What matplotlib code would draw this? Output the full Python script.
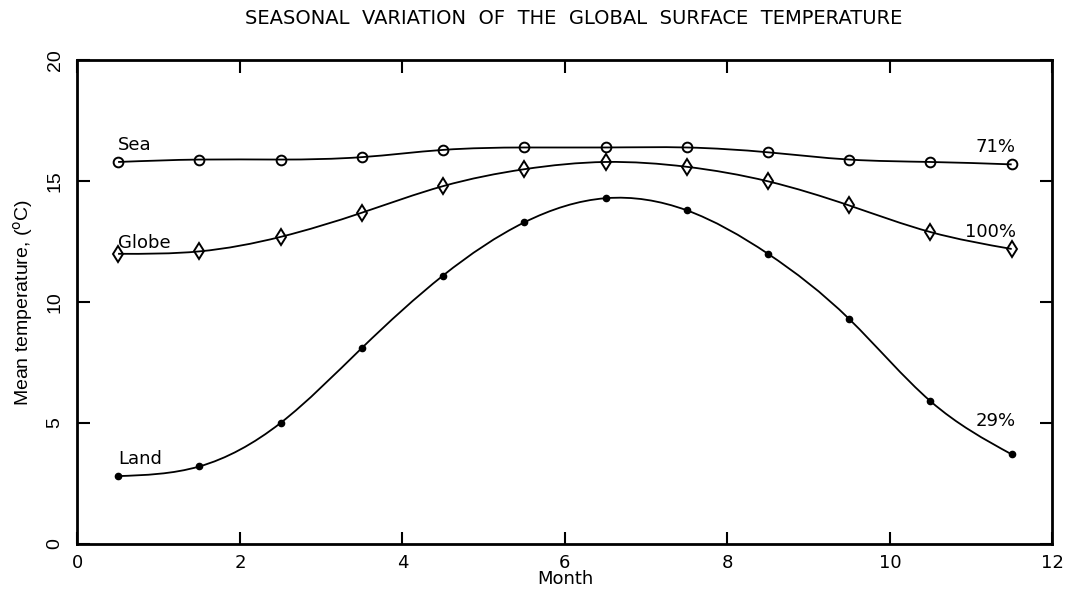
import numpy as np
import matplotlib
matplotlib.use('Agg')
import matplotlib.pyplot as plt
from matplotlib.path import Path
from matplotlib.patches import PathPatch

# 데이터 (월 중간값 기준)
months = [0.5, 1.5, 2.5, 3.5, 4.5, 5.5, 6.5, 7.5, 8.5, 9.5, 10.5, 11.5]
sea = [15.8, 15.9, 15.9, 16.0, 16.3, 16.4, 16.4, 16.4, 16.2, 15.9, 15.8, 15.7]
globe = [12.0, 12.1, 12.7, 13.7, 14.8, 15.5, 15.8, 15.6, 15.0, 14.0, 12.9, 12.2]
land = [2.8, 3.2, 5.0, 8.1, 11.1, 13.3, 14.3, 13.8, 12.0, 9.3, 5.9, 3.7]

series_names = ['Sea', 'Globe', 'Land']
series_shares = ['71%', '100%', '29%']

TITLE = 'SEASONAL  VARIATION  OF  THE  GLOBAL  SURFACE  TEMPERATURE'
XLABEL = 'Month'
YLABEL = r'Mean temperature, ($^{\rm o}$C)'
XTICKS = [0, 2, 4, 6, 8, 10, 12]
YTICKS = [0, 5, 10, 15, 20]


def spline_path(x, y):
    # natural cubic spline -> bezier path
    x = np.asarray(x, float)
    y = np.asarray(y, float)
    n = len(x)
    h = np.diff(x)
    A = np.zeros((n, n))
    b = np.zeros(n)
    A[0, 0] = A[-1, -1] = 1
    for i in range(1, n - 1):
        A[i, i - 1] = h[i - 1]
        A[i, i] = 2 * (h[i - 1] + h[i])
        A[i, i + 1] = h[i]
        b[i] = 6 * ((y[i + 1] - y[i]) / h[i] - (y[i] - y[i - 1]) / h[i - 1])
    M = np.linalg.solve(A, b)
    d = np.zeros(n)
    for i in range(n - 1):
        d[i] = (y[i + 1] - y[i]) / h[i] - h[i] * (2 * M[i] + M[i + 1]) / 6
    d[-1] = (y[-1] - y[-2]) / h[-1] + h[-1] * (M[-2] + 2 * M[-1]) / 6
    verts = [(x[0], y[0])]
    codes = [Path.MOVETO]
    for i in range(n - 1):
        verts += [(x[i] + h[i] / 3, y[i] + d[i] * h[i] / 3),
                  (x[i + 1] - h[i] / 3, y[i + 1] - d[i + 1] * h[i] / 3),
                  (x[i + 1], y[i + 1])]
        codes += [Path.CURVE4] * 3
    return Path(verts, codes)


fig = plt.figure(figsize=(10.76, 5.93), dpi=100)
ax = fig.add_axes([0.072, 0.083, 0.906, 0.815])

styles = [
    dict(marker='o', ms=7, mfc='none', mec='black', mew=1.4),
    dict(marker='d', ms=8, mfc='none', mec='black', mew=1.4),
    dict(marker='o', ms=4.5, mfc='black', mec='black', mew=1),
]
for vals, st in zip([sea, globe, land], styles):
    ax.add_patch(PathPatch(spline_path(months, vals), fc='none', ec='black', lw=1.3))
    ax.plot(months, vals, ls='none', **st)

txt = dict(fontsize=13, family='DejaVu Sans', va='center')
name_y = [16.5, 12.45, 3.5]
share_y = [16.4, 12.9, 5.1]
for name, ny in zip(series_names, name_y):
    ax.text(0.5, ny, name, ha='left', **txt)
for share, sy in zip(series_shares, share_y):
    ax.text(11.55, sy, share, ha='right', **txt)

ax.set_xlim(0, 12)
ax.set_ylim(0, 20)
ax.set_xticks(XTICKS)
ax.set_yticks(YTICKS)
ax.tick_params(direction='in', length=9, width=1.5, top=True, right=True)
ax.tick_params(axis='x', labelsize=13, pad=7)
ax.tick_params(axis='y', labelsize=14, pad=10, labelrotation=90)
for lab in ax.get_yticklabels():
    lab.set_va('center')
    lab.set_family(['Liberation Sans Narrow', 'Liberation Sans', 'DejaVu Sans'])
for sp in ax.spines.values():
    sp.set_linewidth(2)

ax.set_xlabel(XLABEL, fontsize=13, labelpad=-1)
ax.set_ylabel(YLABEL, fontsize=14, family=['Liberation Sans Narrow', 'Liberation Sans', 'DejaVu Sans'],
              labelpad=8)
fig.text(0.533, 0.968, TITLE, ha='center', va='center', fontsize=14)

fig.savefig('out.png', dpi=100)
